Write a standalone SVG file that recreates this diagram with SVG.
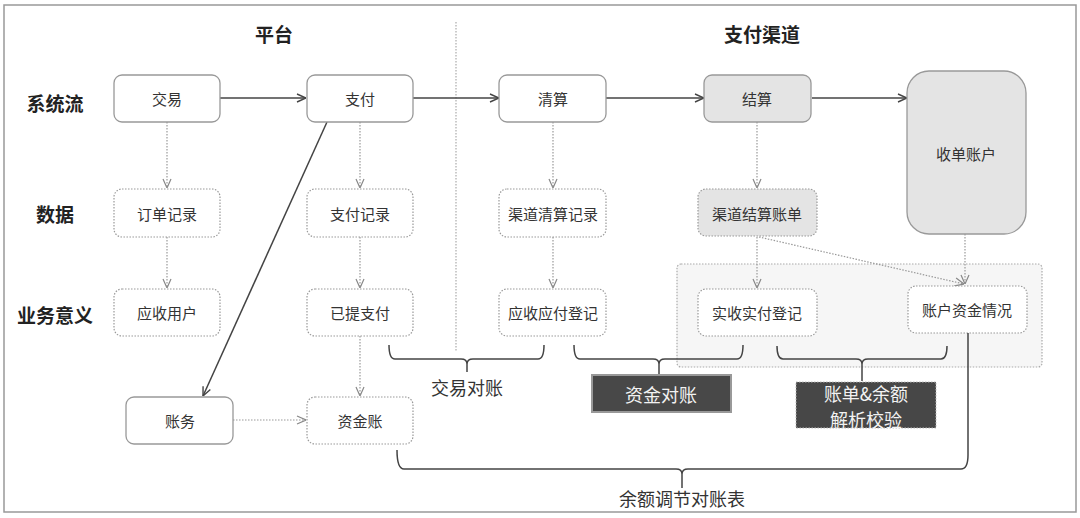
<svg xmlns="http://www.w3.org/2000/svg" width="1080" height="518" viewBox="0 0 1080 518">
<defs>
<style>
text{font-family:"Noto Sans CJK SC","Noto Sans",sans-serif;fill:#333;text-anchor:middle;dominant-baseline:central}
.t{font-size:15px}
.h{font-size:19px;font-weight:bold;fill:#222}
.solid{fill:#fff;stroke:#999;stroke-width:1.3}
.dot{fill:#fff;stroke:#999;stroke-width:1.2;stroke-dasharray:1.5 1.5}
.gray{fill:#e4e4e4}
.line{fill:none;stroke:#444;stroke-width:1.5}
.dl{fill:none;stroke:#999;stroke-width:1.2;stroke-dasharray:1.5 1.5}
.brace{fill:none;stroke:#444;stroke-width:1.5}
.wt{font-size:18px;fill:#f2f2f2}
</style>
<marker id="aS" viewBox="0 0 10 10" refX="10" refY="5" markerWidth="10" markerHeight="10" orient="auto" markerUnits="userSpaceOnUse">
<path d="M1,1 L10,5 L1,9" fill="none" stroke="#444" stroke-width="1.4"/>
</marker>
<marker id="aD" viewBox="0 0 10 10" refX="10" refY="5" markerWidth="10" markerHeight="10" orient="auto" markerUnits="userSpaceOnUse">
<path d="M1,1 L10,5 L1,9" fill="none" stroke="#888" stroke-width="1.2"/>
</marker>
</defs>
<rect x="0" y="0" width="1080" height="518" fill="#fff"/>
<rect x="4" y="5" width="1072" height="507" fill="none" stroke="#999" stroke-width="1.5"/>

<g id="titles">
<text class="h" x="274" y="33">平台</text>
<text class="h" x="762" y="33">支付渠道</text>
<text class="h" x="55" y="102">系统流</text>
<text class="h" x="55" y="213">数据</text>
<text class="h" x="55" y="314">业务意义</text>
</g>

<line x1="456" y1="22" x2="456" y2="352" stroke="#aaa" stroke-width="1.2" stroke-dasharray="1.5 1.5"/>

<g id="region">
<rect x="677" y="264" width="365" height="103" rx="4" fill="#f6f6f6" stroke="#aaa" stroke-width="1.2" stroke-dasharray="1.5 1.5"/>
</g>

<g id="connectors">
<line class="line" x1="220" y1="98" x2="306" y2="98" marker-end="url(#aS)"/>
<line class="line" x1="413" y1="98" x2="499" y2="98" marker-end="url(#aS)"/>
<line class="line" x1="606" y1="98" x2="704" y2="98" marker-end="url(#aS)"/>
<line class="line" x1="812" y1="98" x2="907" y2="98" marker-end="url(#aS)"/>
<line class="line" x1="327" y1="122" x2="203" y2="396" marker-end="url(#aS)"/>
<line class="dl" x1="167" y1="122" x2="167" y2="188" marker-end="url(#aD)"/>
<line class="dl" x1="167" y1="237" x2="167" y2="288" marker-end="url(#aD)"/>
<line class="dl" x1="360" y1="122" x2="360" y2="188" marker-end="url(#aD)"/>
<line class="dl" x1="360" y1="237" x2="360" y2="288" marker-end="url(#aD)"/>
<line class="dl" x1="360" y1="336" x2="360" y2="396" marker-end="url(#aD)"/>
<line class="dl" x1="553" y1="122" x2="553" y2="188" marker-end="url(#aD)"/>
<line class="dl" x1="553" y1="237" x2="553" y2="288" marker-end="url(#aD)"/>
<line class="dl" x1="757" y1="122" x2="757" y2="188" marker-end="url(#aD)"/>
<line class="dl" x1="757" y1="237" x2="757" y2="288" marker-end="url(#aD)"/>
<line class="dl" x1="965" y1="234" x2="965" y2="284" marker-end="url(#aD)"/>
<line class="dl" x1="759" y1="237" x2="964" y2="284" marker-end="url(#aD)"/>
<line class="dl" x1="233" y1="420" x2="306" y2="420" marker-end="url(#aD)"/>
</g>

<g id="n-jiaoyi"><rect class="solid" x="114" y="75" width="106" height="47" rx="8"/><text class="t" x="167" y="98">交易</text></g>
<g id="n-zhifu"><rect class="solid" x="307" y="75" width="106" height="47" rx="8"/><text class="t" x="360" y="98">支付</text></g>
<g id="n-qingsuan"><rect class="solid" x="499" y="75" width="107" height="47" rx="8"/><text class="t" x="553" y="98">清算</text></g>
<g id="n-jiesuan"><rect class="solid gray" x="704" y="75" width="107" height="47" rx="8"/><text class="t" x="757" y="98">结算</text></g>
<g id="n-shoudan"><rect class="solid gray" x="907" y="71" width="119" height="163" rx="22"/><text class="t" x="966" y="153">收单账户</text></g>

<g id="n-dingdan"><rect class="dot" x="114" y="189" width="106" height="48" rx="8"/><text class="t" x="167" y="213">订单记录</text></g>
<g id="n-zhifujilu"><rect class="dot" x="307" y="189" width="106" height="48" rx="8"/><text class="t" x="360" y="213">支付记录</text></g>
<g id="n-qdqs"><rect class="dot" x="499" y="189" width="107" height="48" rx="8"/><text class="t" x="553" y="213">渠道清算记录</text></g>
<g id="n-qdjs"><rect class="dot gray" x="698" y="189" width="119" height="47" rx="8"/><text class="t" x="757" y="213">渠道结算账单</text></g>

<g id="n-yingshou"><rect class="dot" x="114" y="289" width="106" height="47" rx="8"/><text class="t" x="167" y="312">应收用户</text></g>
<g id="n-yiti"><rect class="dot" x="307" y="289" width="106" height="47" rx="8"/><text class="t" x="360" y="312">已提支付</text></g>
<g id="n-yingshouying"><rect class="dot" x="499" y="289" width="107" height="47" rx="8"/><text class="t" x="553" y="312">应收应付登记</text></g>
<g id="n-shishou"><rect class="dot" x="698" y="289" width="119" height="47" rx="8"/><text class="t" x="757" y="312">实收实付登记</text></g>
<g id="n-zhanghu"><rect class="dot" x="908" y="286" width="119" height="47" rx="8"/><text class="t" x="967" y="309">账户资金情况</text></g>

<g id="n-zhangwu"><rect class="solid" x="126" y="397" width="107" height="47" rx="8"/><text class="t" x="180" y="420">账务</text></g>
<g id="n-zijinzhang"><rect class="dot" x="307" y="397" width="106" height="47" rx="8"/><text class="t" x="360" y="420">资金账</text></g>

<g id="braces">
<path class="brace" d="M389,345 Q389,359 395,359 L461,359 Q467,359 467,364 L467,372 M467,364 Q467,359 473,359 L538,359 Q544,359 544,345"/>
<path class="brace" d="M574,345 Q574,359 580,359 L653,359 Q659,359 659,364 L659,375 M659,364 Q659,359 665,359 L737,359 Q743,359 743,345"/>
<path class="brace" d="M777,346 Q777,359 783,359 L856,359 Q862,359 862,364 L862,381 M862,364 Q862,359 868,359 L941,359 Q947,359 947,346"/>
<path class="brace" d="M397,450 Q397,469 404,469 L676,469 Q682,469 682,474 L682,488 M682,474 Q682,469 688,469 L961,469 Q968,469 968,455 L968,333"/>
</g>

<g id="labels">
<text x="467" y="387" style="font-size:18px">交易对账</text>
<text x="682" y="498" style="font-size:18px">余额调节对账表</text>
</g>

<g id="n-zijinduizhang"><rect x="592" y="375" width="139" height="37" fill="#484848" stroke="#999" stroke-width="2"/><text class="wt" x="661" y="394">资金对账</text></g>
<g id="n-zhangdan"><rect x="796" y="382" width="140" height="46" fill="#474747" stroke="#bbb" stroke-width="1" stroke-dasharray="1.5 1.5"/><text class="wt" x="866" y="393">账单&amp;余额</text><text class="wt" x="866" y="419">解析校验</text></g>
</svg>
